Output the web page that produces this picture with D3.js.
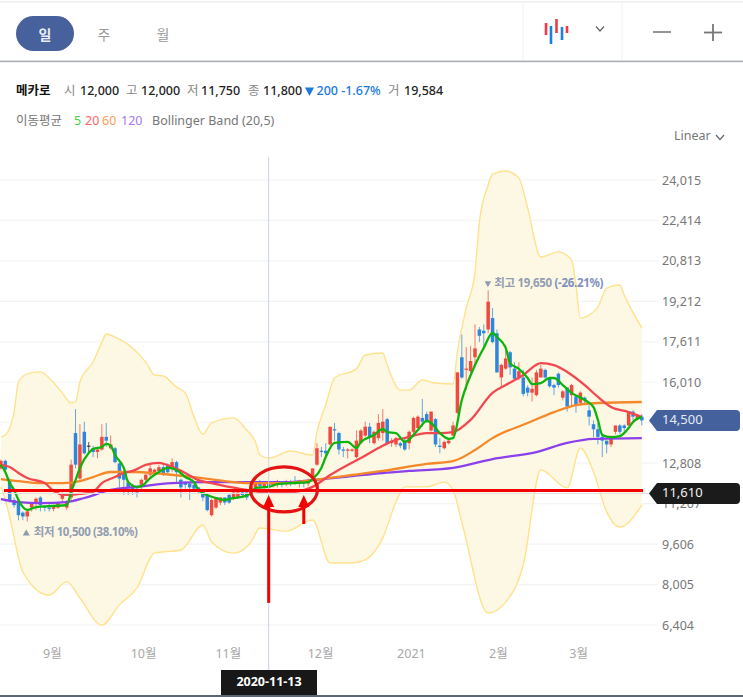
<!DOCTYPE html>
<html lang="ko">
<head>
<meta charset="utf-8">
<title>메카로 일봉 차트</title>
<script src="https://cdn.jsdelivr.net/npm/d3@7/dist/d3.min.js"></script>
<style>
  html, body { margin: 0; padding: 0; background: #fff; }
  svg { display: block; }
  text { font-family: "Noto Sans", "Noto Sans CJK KR", sans-serif; }
  .axis path, .axis line { display: none; }
</style>
</head>
<body>
<svg id="chart" width="743" height="697"></svg>
<script>
// Daily prices, one entry per trading day.
const opens = [12600,12900,12150,11350,11250,10850,10700,11050,11250,11450,11100,11050,11000,11050,11400,11050,11450,14000,12200,14050,13500,13400,13250,13350,13850,13400,13400,12800,12400,12050,11850,11800,11950,12150,12350,12400,12500,12650,12750,12600,12850,12150,12050,12000,11950,11850,11650,11550,10750,11050,11250,11450,11550,11450,11450,11650,11650,11750,11850,12000,11850,12000,11900,11950,12000,12000,12050,12100,12000,12050,12000,12250,12750,13300,13300,13550,14150,14000,13350,13300,13300,13050,13600,13900,14250,13600,13800,14000,14550,13600,13550,13600,13700,13600,14050,14200,14600,14750,14100,14550,13500,13400,13600,13900,14800,17000,16500,16450,17000,18100,18050,18100,18550,17950,16200,16550,17200,16550,16200,16200,15800,15600,15500,16200,16500,16200,15900,16350,15400,15800,15500,15450,15200,15400,14900,14350,14150,13850,13700,13550,14050,14300,14300,14300,14850,14550,14650];
const highs = [12950,12950,12200,11450,11350,10900,10950,11250,11450,11500,11150,11200,11150,11250,11650,11350,12950,14950,14350,14450,13650,13500,13400,14350,14400,13900,13450,12850,12450,12150,11900,11850,12200,12400,12750,12600,12750,12750,12800,13000,12900,12200,12100,12050,12000,11850,11700,11600,11400,11450,11450,11450,11600,11650,11700,11750,11700,12000,12100,12150,12050,12050,12100,12150,12100,12150,12150,12300,12150,12150,12200,12600,13600,13450,13600,14250,14400,14050,13450,13400,13400,14100,14150,14450,14400,14100,14750,14950,14600,13800,13850,13650,13800,14100,14650,14700,15350,14850,14850,14600,13800,13700,13750,14450,16400,17900,17400,17450,18300,18200,18300,19650,18950,18100,16750,17500,17250,16800,16800,16500,15900,16200,16500,16700,16550,16200,15950,16400,15700,15800,15950,15500,15650,15450,15100,14500,14400,14000,13700,13900,14300,14350,14350,14850,14900,14750,14750];
const lows = [12550,12450,11250,11050,10550,10550,10500,10900,10950,10900,10900,10900,10900,11000,11250,10950,11350,12600,12150,13150,13200,13050,13000,13300,13450,13350,12800,11850,11550,11550,11550,11450,11750,12000,12250,12300,12400,12300,12400,12450,12050,11450,11800,11350,11700,11600,11300,10900,10700,11000,11150,11150,11200,11350,11400,11450,11350,11700,11800,11800,11800,11750,11850,11850,11850,11900,11900,11950,11850,11850,11900,12100,12700,13050,13050,13500,13700,13150,13050,13000,13250,13000,13550,13850,13600,13550,13700,13700,13550,13450,13450,13400,13300,13350,13850,14100,14250,14400,14050,13450,13200,13350,13550,13900,14750,16150,15700,16200,16600,17600,17300,17950,17550,16400,15800,16500,16300,16100,16100,15450,15450,15250,15450,16200,16100,15800,15500,15800,15300,14850,15050,14800,15100,15100,14300,13850,13550,13050,13200,13450,13950,13950,14050,14300,14500,14500,14300];
const closes = [12900,12550,11350,11150,10750,10700,10900,11200,11400,11150,11050,11000,11100,11250,11550,11250,12750,12750,13550,13200,13500,13250,13350,13850,13700,13550,12850,12200,12150,11850,11700,11650,12150,12350,12600,12550,12650,12400,12450,12850,12450,11850,11950,11850,11800,11700,11450,10950,11350,11450,11450,11250,11250,11650,11650,11550,11450,11900,12000,11900,12000,11900,12000,12050,11950,12050,12000,12000,12050,12000,12100,12600,13400,13250,13200,14250,14100,13350,13300,13350,13350,13700,14100,14250,13850,14050,14400,14450,13600,13700,13800,13500,13350,14050,14600,14650,14450,14450,14850,13550,13450,13650,13700,14300,16400,16200,16550,16850,17350,17850,17950,19200,17600,16400,16700,16950,16600,16150,16450,15550,15600,15750,16400,16550,16200,15850,15800,15900,15650,15050,15900,15100,15600,15300,14650,14150,13850,13700,13550,13850,14300,14050,14200,14850,14650,14700,14500];

// Indicator readings as [trading-day index, price].
const upperBand = [[0,13840],[1,13920],[3,14830],[4,16020],[6,16340],[9,16420],[11,16180],[14,15590],[16,15190],[17,15230],[18,16020],[21,16810],[23,17600],[24,17920],[26,17800],[30,17370],[33,16810],[35,16300],[37,16260],[40,15820],[42,15590],[44,14640],[46,13960],[48,14400],[53,14600],[56,14120],[58,13650],[59,13130],[61,13010],[66,13290],[71,13130],[72,14040],[74,15110],[76,16180],[81,16540],[83,17090],[87,17170],[88,16690],[91,15700],[93,15700],[96,16100],[99,15980],[103,15940],[104,17210],[106,18950],[108,20370],[109,22350],[111,23820],[112,24250],[115,24370],[118,24090],[120,22910],[123,20970],[127,21170],[130,20850],[131,19860],[132,18550],[134,18670],[136,18990],[138,19740],[141,19860],[142,19460],[146,18160]];
const lowerBand = [[0,11870],[1,11350],[2,10680],[5,8500],[11,7590],[15,8110],[18,7470],[23,6400],[27,7200],[31,7870],[35,9250],[41,9370],[46,10360],[48,9690],[53,9250],[57,9690],[59,10240],[65,10120],[71,10560],[75,8860],[80,8860],[83,8980],[87,9850],[90,11270],[92,11870],[97,11870],[101,12060],[103,11750],[105,10480],[111,6880],[115,7310],[119,8780],[123,12540],[129,11830],[132,13410],[135,12460],[138,10880],[141,10280],[146,11150]];
const ma5 = [[0,12740],[1,12460],[2,12020],[3,11750],[4,11350],[6,10960],[8,11070],[11,11110],[15,11150],[16,11670],[17,12140],[18,12620],[20,13210],[21,13370],[23,13450],[24,13570],[25,13500],[26,13130],[28,12620],[29,12060],[31,11870],[32,11900],[34,12220],[36,12460],[38,12620],[40,12540],[42,12260],[44,12060],[45,11750],[47,11550],[49,11430],[51,11350],[53,11430],[55,11470],[57,11630],[58,11830],[61,11870],[63,11980],[66,12020],[70,12060],[71,12180],[73,12620],[74,13050],[76,13610],[79,13650],[81,13410],[82,13650],[85,13920],[87,14160],[88,14040],[90,14000],[92,13650],[95,14120],[97,14480],[98,14400],[100,14000],[102,13770],[103,13800],[105,15310],[108,16690],[110,17370],[112,17960],[113,17800],[115,17370],[116,16770],[118,16540],[120,16180],[121,15940],[123,15980],[125,16180],[126,16180],[128,15900],[130,15590],[133,15310],[135,15030],[136,14520],[137,13920],[139,13840],[141,13880],[143,14200],[144,14440],[146,14640]];
const ma20 = [[0,12740],[2,12660],[4,12420],[6,12220],[10,12020],[12,11710],[15,11550],[18,11590],[21,11670],[23,12020],[26,12260],[28,12420],[30,12500],[33,12740],[36,12820],[39,12660],[42,12420],[45,12140],[48,12020],[52,11870],[56,11750],[59,11670],[64,11630],[67,11670],[71,11870],[75,12340],[79,12740],[82,13010],[86,13410],[90,13730],[92,13800],[97,14000],[100,14000],[103,14040],[107,14520],[112,15590],[115,15900],[119,16300],[123,16770],[126,16690],[129,16420],[133,15900],[136,15430],[139,15030],[143,14830],[146,14640]];
const ma60 = [[0,12180],[4,12100],[9,12020],[14,12020],[18,12100],[21,12260],[25,12460],[30,12460],[37,12380],[44,12260],[51,12100],[57,12020],[65,12020],[71,12140],[80,12340],[87,12500],[97,12780],[103,12890],[108,13330],[112,13800],[120,14400],[126,14830],[131,15110],[136,15190],[146,15230]];
const ma120 = [[0,11390],[4,11270],[9,11230],[15,11270],[19,11430],[25,11750],[31,11870],[39,12020],[47,12060],[56,12060],[65,12060],[71,12140],[80,12300],[87,12420],[93,12500],[103,12620],[112,12970],[122,13250],[129,13610],[135,13770],[146,13800]];

// Axis labels.
const priceTicks = [24015,22414,20813,19212,17611,16010,14409,12808,11207,9606,8005,6404];
const monthTicks = [11.6,32.4,51.7,72.7,93.4,113.2,131.5];
const monthLabels = ["9월","10월","11월","12월","2021","2월","3월"];

// Values called out on the chart.
const lastPrice = 14500;
const markerPrice = 11610;
const highPrice = 19650, highIndex = 111;
const lowPrice = 10500, lowIndex = 6;
const selectedIndex = 61, selectedDate = "2020-11-13";
const supportLevel = 11730;
const arrowTips = [{index: 61, from: 7280}, {index: 69, from: 10400}];

const RED = "#f04a3e", BLUE = "#2e86de";
const svg = d3.select("#chart");
const x = d3.scaleLinear().domain([0, 146]).range([0.9, 641.8]);
const y = d3.scaleLinear().domain([6404, 24015]).range([625, 180]);
const candleData = d3.range(opens.length).map(i => ({i, o: opens[i], h: highs[i], l: lows[i], c: closes[i]}));

/* ---------- header ---------- */
const head = svg.append("g");
head.append("rect").attr("x", 0).attr("y", 1).attr("width", 743).attr("height", 1.5).attr("fill", "#eeeeee");
head.append("rect").attr("x", 0).attr("y", 60.6).attr("width", 743).attr("height", 1.6).attr("fill", "#a9adb4");
[523, 622].forEach(px => head.append("line").attr("x1", px).attr("x2", px).attr("y1", 2).attr("y2", 60)
  .attr("stroke", "#f2f2f2"));
head.append("rect").attr("x", 16).attr("y", 16).attr("width", 58).attr("height", 35).attr("rx", 17.5).attr("fill", "#46619b");
[["일", 45, "#e9edf6"], ["주", 104, "#9a9a9a"], ["월", 163, "#9a9a9a"]].forEach(([t, px, col]) =>
  head.append("text").attr("x", px).attr("y", 36.5).attr("text-anchor", "middle").attr("dominant-baseline", "middle")
    .attr("font-size", 14).attr("font-weight", t === "일" ? 700 : 400).attr("fill", col).text(t));

// chart-type icon
[[546, 23, 35, "#ee3b45"], [551, 26, 44, "#1f7fe0"], [556.5, 19, 33, "#ee3b45"], [562, 27, 40, "#1f7fe0"], [567, 26, 33, "#ee3b45"]]
  .forEach(([px, a, b, col]) => head.append("line").attr("x1", px).attr("x2", px).attr("y1", a).attr("y2", b)
    .attr("stroke", col).attr("stroke-width", 2.6));
const chevron = (px, py, col) => head.append("path")
  .attr("d", `M${px - 4},${py - 2.5}L${px},${py + 2}L${px + 4},${py - 2.5}`)
  .attr("fill", "none").attr("stroke", col).attr("stroke-width", 1.2);
chevron(600, 29, "#666");
head.append("line").attr("x1", 653).attr("x2", 671).attr("y1", 32).attr("y2", 32).attr("stroke", "#8a8a8a").attr("stroke-width", 1.8);
head.append("line").attr("x1", 704).attr("x2", 722).attr("y1", 32.5).attr("y2", 32.5).attr("stroke", "#777").attr("stroke-width", 1.8);
head.append("line").attr("x1", 713).attr("x2", 713).attr("y1", 24).attr("y2", 41).attr("stroke", "#777").attr("stroke-width", 1.8);

// quote line
const putText = (px, py, txt, col, size = 12.5, weight = 400) => head.append("text")
  .attr("x", px).attr("y", py).attr("dominant-baseline", "middle")
  .attr("font-size", size).attr("font-weight", weight).attr("fill", col).text(txt);
putText(16, 92, "메카로", "#111", 12.5, 700);
[[64, "시", 80, "12,000"], [126, "고", 141, "12,000"], [187, "저", 201, "11,750"], [248, "종", 263, "11,800"], [388, "거", 404, "19,584"]]
  .forEach(([a, lab, b, val]) => { putText(a, 92, lab, "#888"); putText(b, 92, val, "#222", 12.5, 500); });
head.append("path").attr("d", "M305,87.5L314,87.5L309.5,96Z").attr("fill", "#1a78e0");
putText(316.5, 92, "200 -1.67%", "#1a78e0", 12.5, 500);

// indicator legend
putText(16, 122, "이동평균", "#777");
[[74, "5", "#48d048"], [85, "20", "#ff6466"], [102, "60", "#ff9d55"], [121, "120", "#a777f2"]]
  .forEach(([px, t, col]) => putText(px, 122, t, col));
putText(152, 122, "Bollinger Band (20,5)", "#777");
putText(674, 136.5, "Linear", "#777");
chevron(720, 137.5, "#666");

/* ---------- grid ---------- */
const grid = svg.append("g");
grid.selectAll("line").data(priceTicks).join("line")
  .attr("x1", 0).attr("x2", 658).attr("y1", d => y(d)).attr("y2", d => y(d))
  .attr("stroke", "#f3f4f7").attr("stroke-width", 1.2);

/* ---------- Bollinger band ---------- */
const bandLine = d3.line().x(d => x(d[0])).y(d => y(d[1])).curve(d3.curveMonotoneX);
const lowerReversed = lowerBand.slice().reverse();
const lowerBack = d3.line().x(d => x(d[0])).y(d => y(d[1])).curve(d3.curveMonotoneX)(lowerReversed);
svg.append("path")
  .attr("d", bandLine(upperBand) + "L" + lowerBack.slice(1) + "Z")
  .attr("fill", "#fdf7e2").attr("fill-opacity", 0.92);
[upperBand, lowerBand].forEach(series => svg.append("path").attr("d", bandLine(series))
  .attr("fill", "none").attr("stroke", "#ffe28e").attr("stroke-width", 1.4));

/* ---------- candles ---------- */
const candleColor = d => d.c > d.o ? RED : d.c < d.o ? BLUE : "#222";
const candles = svg.append("g").selectAll("g").data(candleData).join("g");
candles.append("line")
  .attr("x1", d => x(d.i)).attr("x2", d => x(d.i)).attr("y1", d => y(d.h)).attr("y2", d => y(d.l))
  .attr("stroke", candleColor).attr("stroke-width", 1).attr("stroke-opacity", 0.72);
candles.append("rect")
  .attr("x", d => x(d.i) - 1.75).attr("width", 3.5)
  .attr("y", d => y(Math.max(d.o, d.c)))
  .attr("height", d => Math.max(1, Math.abs(y(d.o) - y(d.c))))
  .attr("fill", candleColor);

/* ---------- moving averages ---------- */
const maLine = d3.line().x(d => x(d[0])).y(d => y(d[1])).curve(d3.curveMonotoneX);
[[ma120, "#8a40ea"], [ma60, "#f5892a"], [ma20, "#f2474f"], [ma5, "#0db40d"]].forEach(([series, col]) =>
  svg.append("path").attr("d", maLine(series)).attr("fill", "none").attr("stroke", col)
    .attr("stroke-width", 2.3).attr("stroke-linejoin", "round"));

/* ---------- high / low callouts ---------- */
const callout = svg.append("g");
const highY = y(highPrice) - 6, lowY = y(lowPrice) + 11;
callout.append("path").attr("d", `M${x(highIndex) - 3.5},${highY - 3}h6.5l-3.25,6z`).attr("fill", "#8f9bb3");
callout.append("text").attr("x", x(highIndex) + 6).attr("y", highY).attr("dominant-baseline", "middle")
  .attr("font-size", 11.5).attr("font-weight", 700).attr("fill", "#929db2").attr("letter-spacing", -0.3)
  .text("최고 19,650 ").append("tspan").attr("fill", "#7f90bd").text("(-26.21%)");
callout.append("path").attr("d", `M${x(lowIndex) - 4.5},${lowY + 3}h7l-3.5,-6z`).attr("fill", "#8f9bb3");
callout.append("text").attr("x", x(lowIndex) + 6.5).attr("y", lowY).attr("dominant-baseline", "middle")
  .attr("font-size", 11.5).attr("font-weight", 700).attr("fill", "#929db2").attr("letter-spacing", -0.4)
  .text("최저 10,500 (38.10%)");

/* ---------- crosshair and current-marker line ---------- */
svg.append("line").attr("x1", x(selectedIndex)).attr("x2", x(selectedIndex)).attr("y1", 157).attr("y2", 670)
  .attr("stroke", "#ccd3e6").attr("stroke-width", 1);
svg.append("line").attr("x1", 0).attr("x2", 650).attr("y1", y(markerPrice)).attr("y2", y(markerPrice))
  .attr("stroke", "#e0e0e0").attr("stroke-width", 1);

/* ---------- axes ---------- */
// The tick sitting behind the last-price tag gets a grid line only.
const labelledTicks = priceTicks.filter(d => Math.abs(d - lastPrice) > 200);
const yAxis = svg.append("g").attr("class", "axis").attr("transform", "translate(662,0)")
  .call(d3.axisRight(y).tickValues(labelledTicks).tickSize(0).tickPadding(0).tickFormat(d3.format(",")));
yAxis.selectAll("text").attr("font-size", 12.5).attr("fill", "#777");
const xAxis = svg.append("g").attr("class", "axis").attr("transform", "translate(0,649)")
  .call(d3.axisBottom(x).tickValues(monthTicks).tickSize(0).tickPadding(0)
    .tickFormat((d, i) => monthLabels[i]));
xAxis.selectAll("text").attr("font-size", 12.5).attr("fill", "#a8a8a8");

/* ---------- price tags ---------- */
const tag = (price, fill, textFill) => {
  const cy = y(price);
  svg.append("path")
    .attr("d", `M649,${cy}L657,${cy - 10.5}H736Q740,${cy - 10.5} 740,${cy - 6.5}V${cy + 6.5}Q740,${cy + 10.5} 736,${cy + 10.5}H657Z`)
    .attr("fill", fill);
  svg.append("text").attr("x", 662).attr("y", cy).attr("dominant-baseline", "middle")
    .attr("font-size", 13).attr("fill", textFill).text(d3.format(",")(price));
};
tag(lastPrice, "#44619d", "#e6ebf6");
tag(markerPrice, "#1b1b1b", "#f2f2f2");

/* ---------- date tag and bottom rule ---------- */
svg.append("rect").attr("x", 0).attr("y", 695).attr("width", 743).attr("height", 2).attr("fill", "#5b6672");
svg.append("rect").attr("x", 221).attr("y", 670).attr("width", 96).attr("height", 25).attr("fill", "#181818");
svg.append("text").attr("x", 269).attr("y", 683).attr("text-anchor", "middle").attr("dominant-baseline", "middle")
  .attr("font-size", 12.5).attr("font-weight", 700).attr("fill", "#fff").text(selectedDate);

/* ---------- hand-drawn red annotations ---------- */
const note = svg.append("g");
note.append("line").attr("x1", 4).attr("x2", 643).attr("y1", y(supportLevel)).attr("y2", y(supportLevel))
  .attr("stroke", "#f40000").attr("stroke-width", 3);
note.append("ellipse").attr("cx", 284).attr("cy", y(supportLevel) - 1).attr("rx", 33.5).attr("ry", 22.5)
  .attr("fill", "none").attr("stroke", "#e41212").attr("stroke-width", 3.2);
arrowTips.forEach(a => {
  const px = x(a.index), tip = 495;
  note.append("line").attr("x1", px).attr("x2", px).attr("y1", y(a.from)).attr("y2", tip + 8)
    .attr("stroke", "#f40000").attr("stroke-width", 3);
  note.append("path").attr("d", `M${px},${tip}L${px + 5.5},${tip + 12}H${px - 5.5}Z`).attr("fill", "#f40000");
});
</script>
</body>
</html>
